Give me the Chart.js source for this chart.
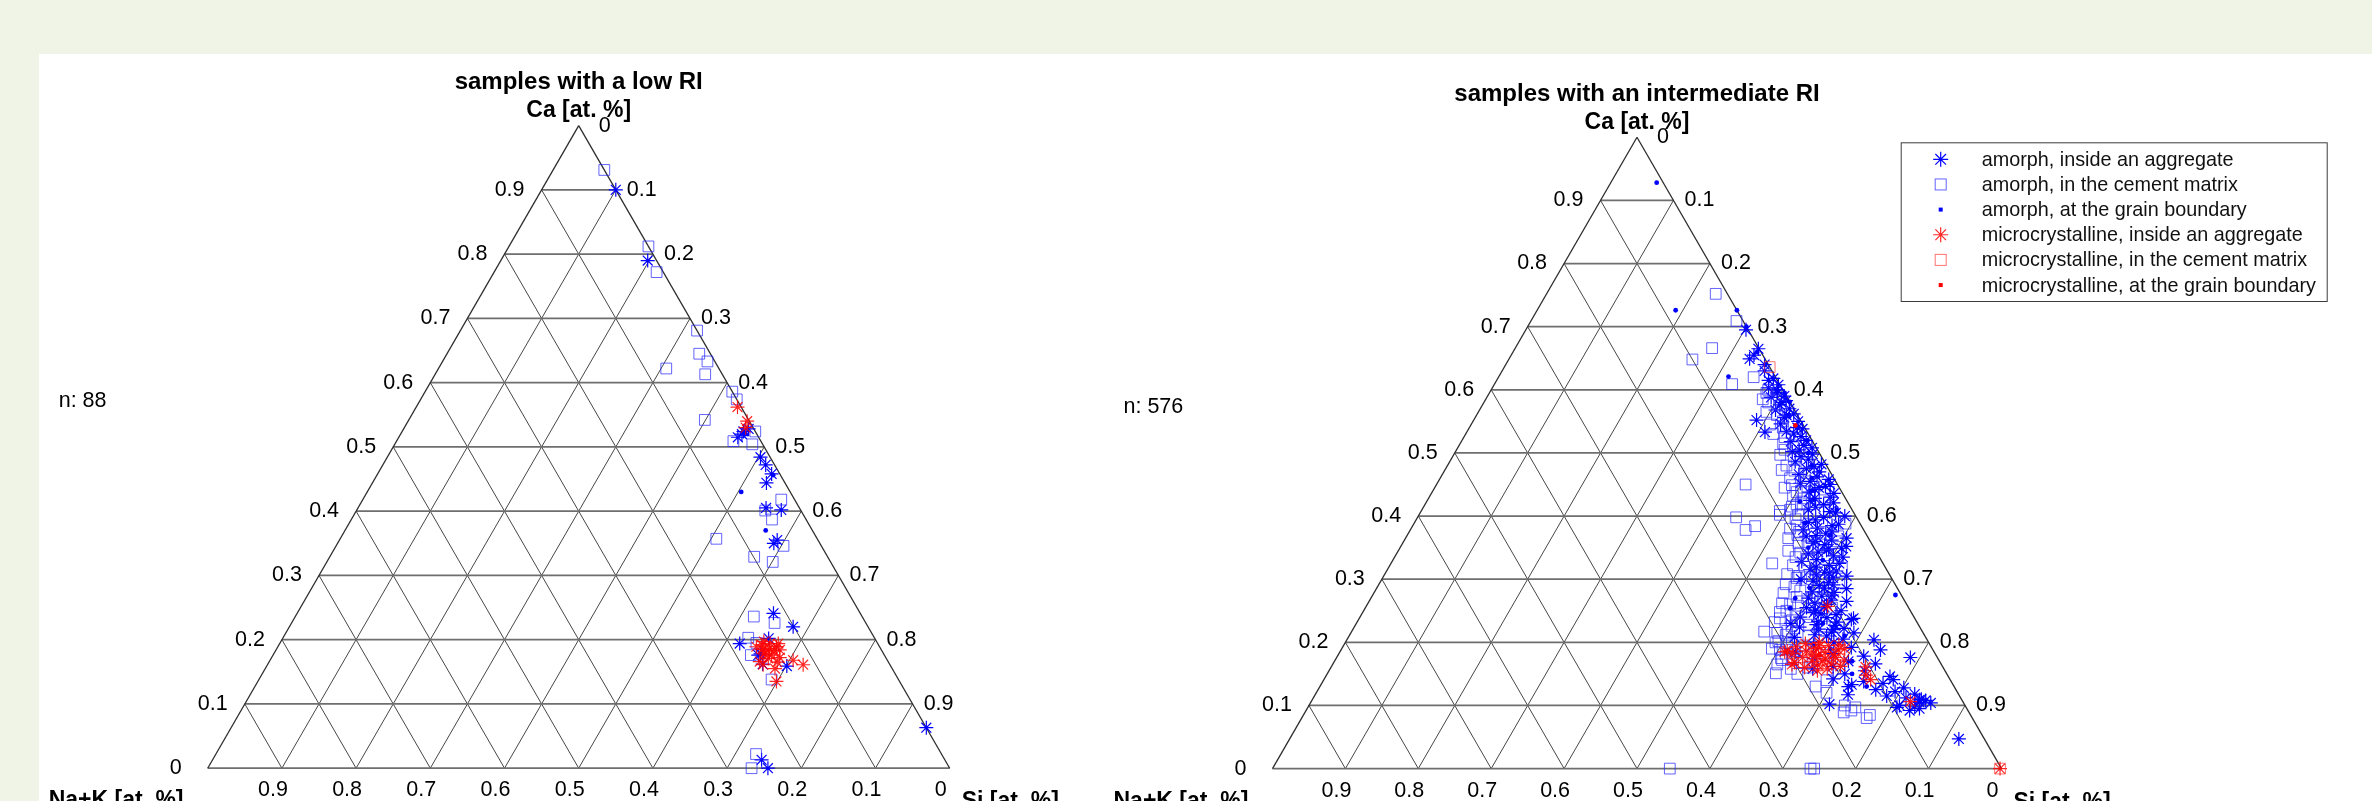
<!DOCTYPE html>
<html><head><meta charset="utf-8">
<script src="https://cdn.jsdelivr.net/npm/chart.js@4.4.1/dist/chart.umd.min.js"></script>
<style>
html,body{margin:0;padding:0;width:2372px;height:801px;overflow:hidden;background:#f0f4e6;}
#panel{position:absolute;left:39px;top:54px;right:0;bottom:0;background:#fff;}
#c1,#c2{position:absolute;top:0;}
#c1{left:0}
#c2{left:1090px}
</style></head><body>
<div id="panel"></div>
<canvas id="c1" width="1090" height="801"></canvas>
<canvas id="c2" width="1282" height="801"></canvas>
<script>
// ---------- tick values ----------
const GRID_STEPS = [0.1,0.2,0.3,0.4,0.5,0.6,0.7,0.8,0.9];
const CA_TICKS   = [0,0.1,0.2,0.3,0.4,0.5,0.6,0.7,0.8,0.9];   // left side (Ca)
const SI_TICKS   = [0,0.1,0.2,0.3,0.4,0.5,0.6,0.7,0.8,0.9];   // right side (Si)
const NAK_TICKS  = [0.9,0.8,0.7,0.6,0.5,0.4,0.3,0.2,0.1,0];   // bottom (Na+K)

const SERIES_NAMES = [
  'amorph, inside an aggregate',
  'amorph, in the cement matrix',
  'amorph, at the grain boundary',
  'microcrystalline, inside an aggregate',
  'microcrystalline, in the cement matrix',
  'microcrystalline, at the grain boundary'
];

// ---------- data: [Ca, Na+K] fractions (Si = 1 - Ca - Na+K) ----------
// samples with a low RI (n: 88)
const lowAmAgg = [[0.90,0.0],[0.79,0.012],[0.524,0.016],[0.528,0.007],[0.52,0.02],[0.515,0.028],[0.484,0.013],[0.472,0.012],[0.458,0.011],[0.444,0.025],[0.405,0.045],[0.402,0.026],[0.350,0.062],[0.355,0.055],[0.241,0.117],[0.220,0.101],[0.202,0.143],[0.194,0.186],[0.178,0.166],[0.176,0.170],[0.159,0.140],[0.162,0.171],[0.063,0.0],[0.013,0.247],[0.0,0.245]];
const lowAmCem = [[0.931,0.0],[0.812,0.0],[0.772,0.009],[0.681,0.0],[0.645,0.015],[0.633,0.01],[0.622,0.071],[0.613,0.023],[0.586,0.0],[0.574,0.0],[0.542,0.059],[0.509,0.037],[0.504,0.014],[0.524,0.0],[0.418,0.018],[0.401,0.048],[0.387,0.046],[0.357,0.136],[0.346,0.051],[0.329,0.099],[0.321,0.078],[0.236,0.146],[0.226,0.123],[0.203,0.170],[0.195,0.163],[0.176,0.180],[0.138,0.171],[0.022,0.250],[0.0,0.267]];
const lowAmGrain = [[0.430,0.066],[0.370,0.063],[0.456,0.010],[0.52,0.015]];
const lowMcAgg = [[0.562,0.005],[0.540,0.003],[0.530,0.01],[0.192,0.157],[0.194,0.145],[0.189,0.139],[0.184,0.137],[0.181,0.158],[0.176,0.152],[0.166,0.173],[0.161,0.171],[0.155,0.158],[0.168,0.127],[0.161,0.117],[0.135,0.166],[0.189,0.166],[0.171,0.159],[0.194,0.134],[0.186,0.150],[0.183,0.145],[0.178,0.160],[0.172,0.143],[0.197,0.152],[0.165,0.150],[0.185,0.160]];
const lowMcCem = [];
const lowMcGrain = [];

// samples with an intermediate RI (n: 576)
const midAmAgg = [[0.695,0.003],[0.665,0.001],[0.649,0.021],[0.655,0.012],[0.640,0.005],[0.630,0.010],[0.618,0.004],[0.600,0.008],[0.590,0.003],[0.580,0.012],[0.570,0.006],[0.560,0.015],[0.552,0.060],[0.533,0.058],[0.550,0.004],[0.540,0.010],[0.530,0.020],[0.520,0.008],[0.512,0.015],[0.505,0.025],[0.498,0.010],[0.490,0.020],[0.482,0.006],[0.475,0.030],[0.470,0.015],[0.462,0.022],[0.455,0.035],[0.450,0.010],[0.445,0.028],[0.438,0.045],[0.430,0.020],[0.425,0.050],[0.418,0.035],[0.410,0.060],[0.405,0.025],[0.398,0.045],[0.390,0.070],[0.385,0.040],[0.378,0.083],[0.372,0.055],[0.365,0.030],[0.360,0.075],[0.352,0.037],[0.357,0.080],[0.346,0.067],[0.340,0.095],[0.335,0.050],[0.328,0.110],[0.322,0.075],[0.315,0.105],[0.310,0.081],[0.305,0.060],[0.300,0.125],[0.295,0.090],[0.290,0.105],[0.285,0.070],[0.280,0.120],[0.275,0.095],[0.270,0.130],[0.265,0.080],[0.260,0.110],[0.255,0.140],[0.250,0.095],[0.245,0.125],[0.240,0.156],[0.238,0.084],[0.236,0.088],[0.232,0.110],[0.228,0.140],[0.224,0.165],[0.220,0.120],[0.215,0.095],[0.212,0.150],[0.208,0.180],[0.204,0.073],[0.200,0.130],[0.196,0.160],[0.192,0.110],[0.188,0.072],[0.185,0.190],[0.182,0.140],[0.178,0.100],[0.176,0.037],[0.174,0.170],[0.170,0.125],[0.166,0.090],[0.162,0.150],[0.158,0.180],[0.155,0.110],[0.150,0.140],[0.146,0.080],[0.142,0.160],[0.138,0.120],[0.135,0.095],[0.130,0.145],[0.128,0.070],[0.125,0.110],[0.122,0.085],[0.118,0.060],[0.115,0.100],[0.112,0.075],[0.110,0.055],[0.108,0.050],[0.105,0.060],[0.104,0.045],[0.102,0.185],[0.100,0.090],[0.098,0.070],[0.095,0.065],[0.092,0.080],[0.047,0.035],[0.615,0.012],[0.608,0.002],[0.603,0.018],[0.595,0.010],[0.588,0.022],[0.583,0.004],[0.576,0.016],[0.568,0.026],[0.562,0.004],[0.556,0.020],[0.546,0.030],[0.538,0.004],[0.534,0.028],[0.526,0.012],[0.518,0.030],[0.508,0.006],[0.502,0.036],[0.494,0.028],[0.486,0.040],[0.478,0.018],[0.466,0.045],[0.458,0.008],[0.452,0.050],[0.447,0.018],[0.348,0.063],[0.368,0.084],[0.311,0.087],[0.247,0.134],[0.222,0.105],[0.230,0.174],[0.133,0.139],[0.117,0.152],[0.141,0.078],[0.097,0.095],[0.109,0.058],[0.442,0.035],[0.436,0.012],[0.428,0.042],[0.421,0.020],[0.414,0.048],[0.407,0.032],[0.400,0.015],[0.394,0.058],[0.387,0.030],[0.381,0.062],[0.375,0.045],[0.369,0.070],[0.362,0.052],[0.355,0.065],[0.349,0.045],[0.343,0.080],[0.337,0.062],[0.331,0.088],[0.325,0.060],[0.319,0.095],[0.313,0.070],[0.307,0.100],[0.302,0.080],[0.297,0.110],[0.291,0.085],[0.286,0.100],[0.279,0.090],[0.273,0.110],[0.267,0.100],[0.262,0.125],[0.256,0.115],[0.251,0.130],[0.244,0.105],[0.239,0.120],[0.233,0.135],[0.227,0.115],[0.221,0.140],[0.216,0.125],[0.210,0.135],[0.205,0.115]];
const midAmCem = [[0.752,0.016],[0.709,0.009],[0.666,0.064],[0.648,0.100],[0.609,0.065],[0.620,0.030],[0.600,0.020],[0.585,0.035],[0.575,0.015],[0.565,0.040],[0.550,0.025],[0.515,0.042],[0.473,0.065],[0.450,0.126],[0.449,0.063],[0.408,0.100],[0.402,0.103],[0.398,0.165],[0.384,0.146],[0.378,0.162],[0.325,0.152],[0.217,0.217],[0.151,0.234],[0.540,0.030],[0.525,0.035],[0.505,0.045],[0.490,0.040],[0.480,0.055],[0.468,0.030],[0.460,0.060],[0.440,0.055],[0.432,0.070],[0.425,0.030],[0.415,0.080],[0.405,0.060],[0.395,0.085],[0.388,0.020],[0.380,0.100],[0.372,0.070],[0.365,0.110],[0.360,0.045],[0.352,0.090],[0.345,0.120],[0.338,0.070],[0.330,0.100],[0.322,0.125],[0.315,0.085],[0.308,0.140],[0.300,0.110],[0.292,0.150],[0.285,0.095],[0.278,0.160],[0.270,0.125],[0.262,0.170],[0.255,0.105],[0.248,0.180],[0.240,0.145],[0.232,0.195],[0.225,0.130],[0.218,0.185],[0.210,0.160],[0.202,0.205],[0.195,0.175],[0.188,0.210],[0.180,0.150],[0.172,0.200],[0.165,0.225],[0.160,0.185],[0.150,0.205],[0.140,0.170],[0.130,0.190],[0.120,0.180],[0.089,0.172],[0.085,0.138],[0.097,0.152],[0.092,0.160],[0.080,0.145],[0.100,0.165],[0.0,0.455],[0.0,0.262],[0.0,0.257],[0.595,0.025],[0.580,0.030],[0.560,0.028],[0.545,0.045],[0.530,0.048],[0.512,0.030],[0.497,0.055],[0.485,0.025],[0.472,0.048],[0.455,0.040],[0.445,0.075],[0.435,0.040],[0.420,0.065],[0.410,0.085],[0.392,0.050],[0.375,0.090],[0.368,0.040],[0.355,0.070],[0.342,0.105],[0.318,0.060],[0.305,0.125],[0.295,0.075],[0.282,0.135],[0.268,0.110],[0.258,0.150],[0.245,0.160],[0.235,0.170],[0.228,0.150],[0.215,0.200],[0.205,0.185],[0.198,0.195],[0.190,0.220],[0.182,0.205],[0.175,0.215],[0.168,0.190],[0.158,0.210],[0.438,0.062],[0.428,0.058],[0.418,0.072],[0.402,0.078],[0.385,0.088],[0.370,0.095],[0.357,0.100],[0.335,0.115],[0.320,0.110],[0.302,0.130],[0.288,0.140],[0.272,0.145],[0.260,0.160],[0.250,0.170],[0.238,0.185],[0.226,0.175],[0.212,0.190],[0.200,0.210],[0.186,0.190],[0.172,0.215]];
const midAmGrain = [[0.928,0.009],[0.726,0.084],[0.726,0.0],[0.621,0.064],[0.275,0.008],[0.70,0.0],[0.66,0.005],[0.64,0.004],[0.595,0.0],[0.581,0.0],[0.56,0.012],[0.54,0.01],[0.52,0.006],[0.50,0.015],[0.48,0.02],[0.46,0.03],[0.44,0.04],[0.423,0.065],[0.426,0.045],[0.389,0.075],[0.41,0.021],[0.37,0.05],[0.35,0.09],[0.33,0.08],[0.299,0.127],[0.286,0.12],[0.27,0.148],[0.254,0.163],[0.23,0.13],[0.21,0.11],[0.19,0.14],[0.17,0.12],[0.15,0.13],[0.13,0.12]];
const midMcAgg = [[0.200,0.150],[0.198,0.170],[0.195,0.140],[0.193,0.185],[0.190,0.160],[0.188,0.130],[0.186,0.175],[0.184,0.150],[0.182,0.195],[0.180,0.140],[0.178,0.165],[0.176,0.185],[0.174,0.155],[0.172,0.130],[0.170,0.175],[0.168,0.200],[0.166,0.150],[0.164,0.170],[0.162,0.140],[0.160,0.190],[0.158,0.160],[0.155,0.175],[0.185,0.205],[0.190,0.120],[0.176,0.140],[0.170,0.160],[0.192,0.155],[0.180,0.170],[0.196,0.125],[0.165,0.205],[0.186,0.201],[0.257,0.110],[0.161,0.106],[0.141,0.109],[0.148,0.112],[0.106,0.072],[0.0,0.002]];
const midMcCem = [[0.636,0.0],[0.0,0.002],[0.19,0.16],[0.17,0.18]];
const midMcGrain = [[0.5435,0.011],[0.18,0.16]];

// ---------- helpers ----------
const FONT = '"Liberation Sans", Arial, Helvetica, sans-serif';
const fmt = v => v === 0 ? '0' : v.toFixed(1);
// ternary -> cartesian (side length 1 in x, Ca height 1 in y)
const toXY = arr => arr.map(([ca, nak]) => ({ x: 1 - nak - ca / 2, y: ca }));

const STYLES = [
  { pointStyle: 'star', pointRadius: 7, borderColor: 'rgb(0,0,255)', backgroundColor: 'rgba(0,0,0,0)', borderWidth: 1.2, order: 5 },
  { pointStyle: 'rect', pointRadius: 7.6, borderColor: 'rgba(40,40,255,0.72)', backgroundColor: 'rgba(0,0,0,0)', borderWidth: 1, order: 4 },
  { pointStyle: 'circle', pointRadius: 2.4, borderColor: 'rgb(0,0,255)', backgroundColor: 'rgb(0,0,255)', borderWidth: 0, order: 3 },
  { pointStyle: 'star', pointRadius: 7, borderColor: 'rgba(255,0,0,0.85)', backgroundColor: 'rgba(0,0,0,0)', borderWidth: 1.2, order: 2 },
  { pointStyle: 'rect', pointRadius: 7.6, borderColor: 'rgba(255,40,40,0.65)', backgroundColor: 'rgba(0,0,0,0)', borderWidth: 1, order: 1 },
  { pointStyle: 'circle', pointRadius: 2.4, borderColor: 'rgb(255,0,0)', backgroundColor: 'rgb(255,0,0)', borderWidth: 0, order: 0 }
];

function drawMarker(ctx, i, x, y) {
  const s = STYLES[i];
  ctx.save();
  ctx.strokeStyle = s.borderColor;
  ctx.fillStyle = s.backgroundColor;
  ctx.lineWidth = s.borderWidth;
  if (s.pointStyle === 'circle') {
    ctx.fillRect(x - 2, y - 2, 4, 4);
  } else if (s.pointStyle === 'rect') {
    ctx.strokeRect(x - 5.5, y - 5.5, 11, 11);
  } else {
    const r = 7.5;
    ctx.beginPath();
    ctx.moveTo(x - r, y); ctx.lineTo(x + r, y);
    ctx.moveTo(x, y - r); ctx.lineTo(x, y + r);
    const d = r * Math.SQRT1_2;
    ctx.moveTo(x - d, y - d); ctx.lineTo(x + d, y + d);
    ctx.moveTo(x - d, y + d); ctx.lineTo(x + d, y - d);
    ctx.stroke();
  }
  ctx.restore();
}

const ternaryPlugin = {
  id: 'ternary',
  beforeDatasetsDraw(chart, args, opts) {
    const ctx = chart.ctx, xs = chart.scales.x, ys = chart.scales.y;
    const P = (xu, ca) => [xs.getPixelForValue(xu), ys.getPixelForValue(ca)];
    const line = (a, b) => { ctx.beginPath(); ctx.moveTo(a[0], a[1]); ctx.lineTo(b[0], b[1]); ctx.stroke(); };
    ctx.save();
    ctx.strokeStyle = 'rgb(70,70,70)'; ctx.lineWidth = 1;
    GRID_STEPS.forEach(g => {
      line(P(g, 0), P(g + (1 - g) / 2, 1 - g));      // constant Si
      line(P(1 - g, 0), P((1 - g) / 2, 1 - g));      // constant Na+K
    });
    ctx.strokeStyle = 'rgb(110,110,110)'; ctx.lineWidth = 1.8;
    GRID_STEPS.forEach(g => line(P(g / 2, g), P(1 - g / 2, g)));  // constant Ca
    line(P(0, 0), P(1, 0));
    ctx.strokeStyle = 'rgb(45,45,45)'; ctx.lineWidth = 1.3;
    line(P(0, 0), P(0.5, 1));
    line(P(0.5, 1), P(1, 0));
    ctx.restore();
  },
  afterDatasetsDraw(chart, args, opts) {
    const ctx = chart.ctx, xs = chart.scales.x, ys = chart.scales.y;
    const P = (xu, ca) => [xs.getPixelForValue(xu), ys.getPixelForValue(ca)];
    ctx.save();
    ctx.fillStyle = '#000';
    ctx.textBaseline = 'middle';
    ctx.textAlign = 'center';
    ctx.font = '21.5px ' + FONT;
    CA_TICKS.forEach(v => { const p = P(v / 2, v); ctx.fillText(fmt(v), p[0] - 32, p[1]); });
    SI_TICKS.forEach(v => { const ca = 1 - v; const p = P(v + ca / 2, ca); ctx.fillText(fmt(v), p[0] + 26, p[1]); });
    NAK_TICKS.forEach(v => { const p = P(1 - v, 0); ctx.fillText(fmt(v), p[0] - 9, p[1] + 22); });
    const apex = P(0.5, 1), bl = P(0, 0), br = P(1, 0), mid = P(0, 0.5);
    ctx.textAlign = 'left';
    ctx.fillText(opts.count, bl[0] - 149, mid[1] - 46);
    ctx.textAlign = 'center';
    ctx.font = 'bold 24px ' + FONT;
    ctx.fillText(opts.title, apex[0], apex[1] - 43);
    ctx.font = 'bold 23px ' + FONT;
    ctx.fillText('Ca [at. %]', apex[0], apex[1] - 15);
    ctx.textBaseline = 'alphabetic';
    ctx.textAlign = 'left';
    ctx.fillText('Na+K [at. %]', bl[0] - 159, bl[1] + 39);
    ctx.fillText('Si [at. %]', br[0] + 12, br[1] + 40);
    if (opts.legend) {
      const b = opts.legend;
      ctx.fillStyle = '#fff';
      ctx.fillRect(b.x, b.y, b.w, b.h);
      ctx.strokeStyle = 'rgb(60,60,60)'; ctx.lineWidth = 1;
      ctx.strokeRect(b.x + 0.5, b.y + 0.5, b.w, b.h);
      ctx.font = '19.8px ' + FONT;
      ctx.textBaseline = 'middle';
      SERIES_NAMES.forEach((name, i) => {
        const y = b.y + 17 + i * 25.15;
        drawMarker(ctx, i, b.x + 40, y);
        ctx.fillStyle = '#111';
        ctx.fillText(name, b.x + 81, y + 1);
      });
    }
    ctx.restore();
  }
};

function makeChart(id, geom, series, opts) {
  const W = geom.W, H = 801;
  const h = geom.side * Math.sqrt(3) / 2;
  const datasets = series.map((arr, i) => Object.assign({
    label: SERIES_NAMES[i], data: toXY(arr), pointHoverRadius: STYLES[i].pointRadius
  }, STYLES[i]));
  return new Chart(document.getElementById(id), {
    type: 'scatter',
    data: { datasets },
    options: {
      responsive: false, animation: false, events: [], devicePixelRatio: 1,
      layout: { padding: 0, autoPadding: false },
      clip: false,
      scales: {
        x: { type: 'linear', display: false, bounds: 'data', min: -geom.bx / geom.side, max: (W - geom.bx) / geom.side },
        y: { type: 'linear', display: false, bounds: 'data', min: -(H - geom.by) / h, max: geom.by / h }
      },
      plugins: { legend: { display: false }, tooltip: { enabled: false }, ternary: opts }
    },
    plugins: [ternaryPlugin]
  });
}

makeChart('c1', { W: 1090, bx: 207.7, by: 768.2, side: 742 },
  [lowAmAgg, lowAmCem, lowAmGrain, lowMcAgg, lowMcCem, lowMcGrain],
  { title: 'samples with a low RI', count: 'n: 88', legend: null });

makeChart('c2', { W: 1282, bx: 182.5, by: 768.6, side: 729 },
  [midAmAgg, midAmCem, midAmGrain, midMcAgg, midMcCem, midMcGrain],
  { title: 'samples with an intermediate RI', count: 'n: 576', legend: { x: 810.7, y: 142.3, w: 426, h: 158.7 } });
</script>
</body></html>
